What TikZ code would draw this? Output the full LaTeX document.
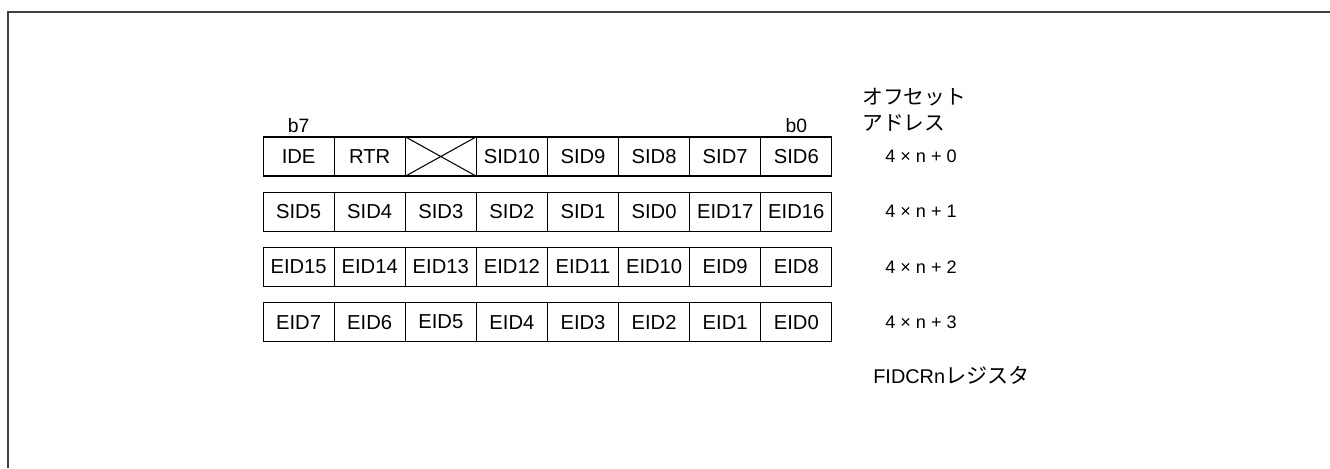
\documentclass[tikz,border=0pt]{standalone}
\usepackage{fontspec}
\setmainfont{Liberation Sans}
\newfontfamily\jpfont{Noto Sans CJK JP}
\usetikzlibrary{positioning}

\tikzset{
  bitcell/.style={draw, line width=0.6pt, minimum width=1.422cm, minimum height=0.78cm,
    inner sep=0pt, font=\fontsize{11.5}{13}\selectfont},
  offsetlbl/.style={font=\fontsize{10.3}{12}\selectfont},
  bitlbl/.style={font=\fontsize{11}{12}\selectfont, inner sep=2pt},
}

\begin{document}
\begin{tikzpicture}[x=0.02cm, y=-0.02cm]
\useasboundingbox (0,0) rectangle (1330,468);

% outer frame (only top and left edges visible)
\draw[line width=1.1pt, black!75] (8,468) -- (8,12) -- (1330,12);

% register rows
\foreach \row/\bits in {0/{IDE,RTR,,SID10,SID9,SID8,SID7,SID6},
                        1/{SID5,SID4,SID3,SID2,SID1,SID0,EID17,EID16},
                        2/{EID15,EID14,EID13,EID12,EID11,EID10,EID9,EID8},
                        3/{EID7,EID6,EID5,EID4,EID3,EID2,EID1,EID0}} {
  \foreach \b [count=\c from 0] in \bits {
    \node[bitcell] (r\row c\c) at (298.6+71.1*\c, 156.5+55.2*\row) {\b};
  }
  \node[offsetlbl] (off\row) at (921, 156.5+55.2*\row) {4 × n + \row};
}

% unused bit
\draw[line width=0.6pt] (r0c2.north west) -- (r0c2.south east)
                        (r0c2.south west) -- (r0c2.north east);

% bit numbers
\node[bitlbl, above=0pt of r0c0] (b7) {b7};
\node[bitlbl, above=0pt of r0c7] (b0) {b0};

% offset header
\node[anchor=west, align=left, inner sep=0pt, font=\fontsize{11.8}{14.7}\selectfont\jpfont]
  (offhead) at (862,110) {オフセット\\アドレス};

% register name
\node[anchor=west, inner sep=0pt, font=\fontsize{11.3}{13}\selectfont]
  (regname) at (873,375) {FIDCRn{\jpfont\fontsize{12}{13}\selectfont レジスタ}};

\end{tikzpicture}
\end{document}
